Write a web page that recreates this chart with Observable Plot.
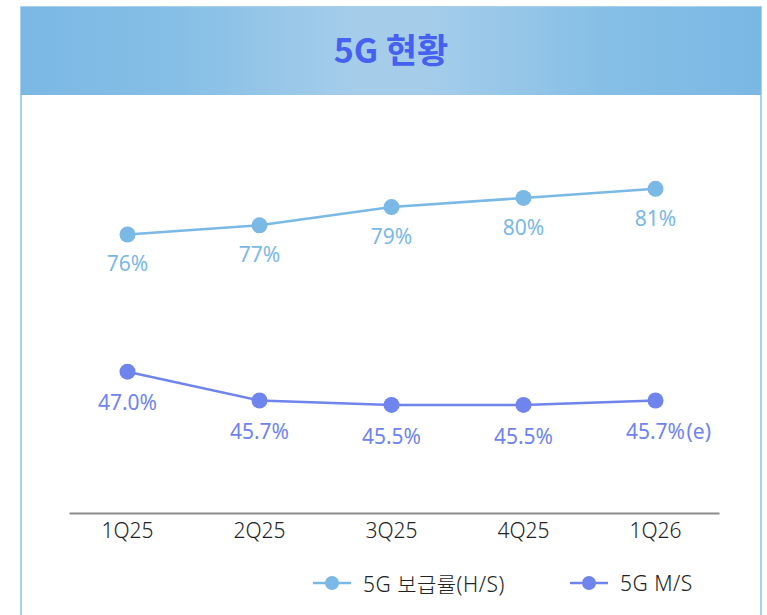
<!DOCTYPE html>
<html>
<head>
<meta charset="utf-8">
<script src="https://cdn.jsdelivr.net/npm/d3@7"></script>
<script src="https://cdn.jsdelivr.net/npm/@observablehq/plot@0.6"></script>
<style>
  body { margin:0; background:#fff; width:767px; height:615px; overflow:hidden; position:relative;
         font-family:"Noto Sans","Noto Sans CJK KR",sans-serif; }
  #panel { position:absolute; left:20px; top:6px; width:742px; height:640px; border:2px solid #a9d0ee; border-bottom:none; box-sizing:border-box; }
  #header { position:absolute; left:21px; top:7px; width:740px; height:88px;
    background:linear-gradient(90deg,#7ab8e4 0%,#86bfe6 22%,#a5cdea 45%,#a5cdea 55%,#86bfe6 78%,#7ab8e4 100%);
    display:flex; align-items:center; justify-content:center; }
  #title { color:#4660f0; font-size:34px; font-weight:700; font-family:"Noto Sans CJK KR","Noto Sans",sans-serif; margin-top:-6px; }
  .layer { position:absolute; left:0; top:96px; }
  .layer svg { background:transparent; overflow:visible; }
  #legend { position:absolute; top:568px; left:0; width:767px; height:30px; font-size:21px; color:#222; font-weight:300; }
  .item { position:absolute; top:0; display:flex; align-items:center; height:30px; }
  .item span { margin-left:12px; letter-spacing:0.5px; white-space:nowrap; }
</style>
</head>
<body>
<div id="panel"></div>
<div id="header"><span id="title">5G 현황</span></div>
<div id="layer1" class="layer"></div>
<div id="layer2" class="layer"></div>
<div id="legend"></div>
<script>
// ---- data ----
const quarters = ["1Q25", "2Q25", "3Q25", "4Q25", "1Q26"];
const hsValues = [76, 77, 79, 80, 81];            // 5G 보급률 (H/S), %
const hsLabels = ["76%", "77%", "79%", "80%", "81%"];
const msValues = [47.0, 45.7, 45.5, 45.5, 45.7];  // 5G M/S, %
const msLabels = ["47.0%", "45.7%", "45.5%", "45.5%", "45.7%"];
const msSuffix = ["", "", "", "", "(e)"];
const seriesNames = ["5G 보급률(H/S)", "5G M/S"];

const hsColor = "#7ab8e6";
const msColor = "#6f84ec";

const hs = quarters.map((q, i) => ({q, v: hsValues[i], label: hsLabels[i]}));
const ms = quarters.map((q, i) => ({q, v: msValues[i], label: msLabels[i], suffix: msSuffix[i]}));

const W = 767, H = 447;
const common = {
  width: W, height: H,
  marginLeft: 70, marginRight: 49, marginTop: 0, marginBottom: 30,
  style: {fontFamily: '"Noto Sans","Noto Sans CJK KR",sans-serif', background: "transparent", overflow: "visible"},
  x: {type: "point", domain: quarters, range: [127, 655], padding: 0}
};

const p1 = Plot.plot({
  ...common,
  y: {domain: [76, 81], range: [138, 92.3], axis: null},
  x: {...common.x, axis: null},
  marks: [
    Plot.frame({anchor: "bottom", stroke: "#8c8c8c", strokeWidth: 2, strokeOpacity: 1}),
    Plot.axisX({tickSize: 0, tickPadding: 10, fontSize: 21, fontWeight: 300, fill: "#222", label: null, style: {letterSpacing: "1.5px"}}),
    Plot.line(hs, {x: "q", y: "v", stroke: hsColor, strokeWidth: 2.5}),
    Plot.dot(hs, {x: "q", y: "v", r: 8, fill: hsColor}),
    Plot.text(hs, {x: "q", y: "v", text: "label", dy: 30, fill: hsColor, fontSize: 21, style: {letterSpacing: "0.5px"}})
  ]
});
document.getElementById("layer1").appendChild(p1);

const p2 = Plot.plot({
  ...common,
  y: {domain: [45.5, 47], range: [308.4, 275.2], axis: null},
  x: {...common.x, axis: null},
  marks: [
    Plot.line(ms, {x: "q", y: "v", stroke: msColor, strokeWidth: 2.5}),
    Plot.dot(ms, {x: "q", y: "v", r: 8, fill: msColor}),
    Plot.text(ms, {x: "q", y: "v", text: "label", dy: 32, fill: msColor, fontSize: 21, style: {letterSpacing: "0.5px"}}),
    Plot.text(ms, {x: "q", y: "v", text: "suffix", dy: 32, dx: 31, textAnchor: "start", fill: msColor, fontSize: 21})
  ]
});
document.getElementById("layer2").appendChild(p2);

// ---- legend ----
const legend = document.getElementById("legend");
const items = [
  {name: seriesNames[0], color: hsColor, left: 313},
  {name: seriesNames[1], color: msColor, left: 570}
];
for (const it of items) {
  const div = document.createElement("div");
  div.className = "item";
  div.style.left = it.left + "px";
  const svg = d3.create("svg").attr("width", 38).attr("height", 30);
  svg.append("line").attr("x1", 0).attr("x2", 38).attr("y1", 15).attr("y2", 15).attr("stroke", it.color).attr("stroke-width", 2.5);
  svg.append("circle").attr("cx", 19).attr("cy", 15).attr("r", 7).attr("fill", it.color);
  div.appendChild(svg.node());
  const span = document.createElement("span");
  span.textContent = it.name;
  div.appendChild(span);
  legend.appendChild(div);
}
</script>
</body>
</html>
